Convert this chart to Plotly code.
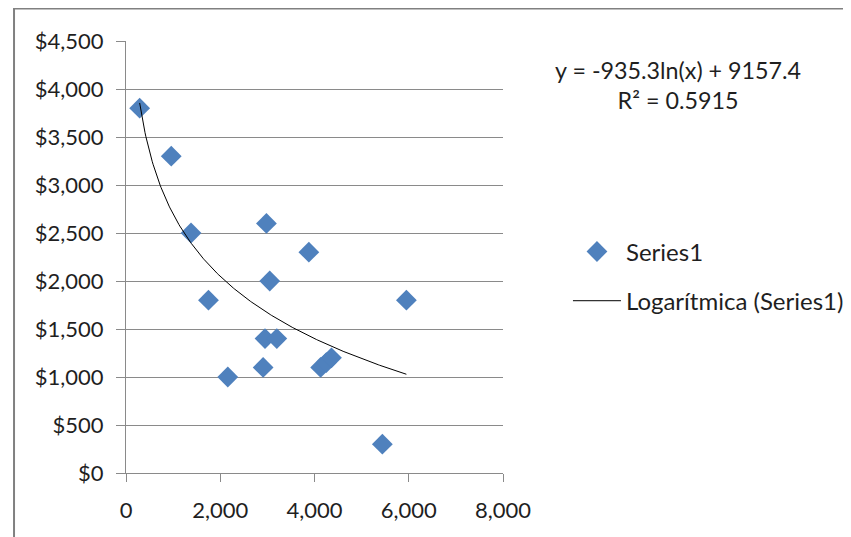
import numpy as np
import plotly.graph_objects as go

# Data
x_values = [290, 960, 1380, 1750, 2160, 2910, 2980, 2950, 3050, 3200, 3880, 4130, 4250, 4360, 5440, 5950]
y_values = [3800, 3300, 2500, 1800, 1000, 1100, 2600, 1400, 2000, 1400, 2300, 1100, 1150, 1200, 300, 1800]

# Logarithmic trendline coefficients (as printed on the chart)
trend_slope = -935.3
trend_intercept = 9157.4
r_squared = 0.5915

x_ticks = [0, 2000, 4000, 6000, 8000]
x_tick_labels = ["0", "2,000", "4,000", "6,000", "8,000"]
y_ticks = [0, 500, 1000, 1500, 2000, 2500, 3000, 3500, 4000, 4500]
y_tick_labels = ["$0", "$500", "$1,000", "$1,500", "$2,000", "$2,500", "$3,000", "$3,500", "$4,000", "$4,500"]

FONT = "Lato"
TXT = "#1f1f1f"
GRID = "#8a8a8a"

trend_x = np.linspace(min(x_values), max(x_values), 300)
trend_y = trend_slope * np.log(trend_x) + trend_intercept

fig = go.Figure()
fig.add_trace(go.Scatter(
    x=x_values, y=y_values, mode="markers", name="Series1",
    marker=dict(symbol="diamond", size=16, color="#4F81BD"),
    legendgroup="a",
))
fig.add_trace(go.Scatter(
    x=trend_x, y=trend_y, mode="lines", name="Logarítmica (Series1)",
    line=dict(color="black", width=1),
    legendgroup="b",
))

fig.update_layout(
    width=851, height=537,
    margin=dict(l=118, r=356, t=33, b=72, autoexpand=False),
    paper_bgcolor="white", plot_bgcolor="white",
    font=dict(family=FONT, size=22, color=TXT),
    showlegend=True,
    legend=dict(xref="container", yref="container", x=0.658, y=0.5877,
                xanchor="left", yanchor="top",
                tracegroupgap=15, font=dict(size=24, color=TXT),
                bgcolor="rgba(0,0,0,0)", itemwidth=48),
    xaxis=dict(range=[0, 8000], tickvals=x_ticks, ticktext=x_tick_labels,
               showgrid=False, zeroline=False, showline=True, linecolor=GRID, linewidth=1,
               ticks="outside", ticklen=8, tickcolor=GRID, ticklabelstandoff=10,
               tickfont=dict(family=FONT, size=22, color=TXT)),
    yaxis=dict(range=[0, 4500], tickvals=y_ticks, ticktext=y_tick_labels,
               showgrid=True, gridcolor=GRID, gridwidth=1, zeroline=False,
               showline=True, linecolor=GRID, linewidth=1,
               ticks="outside", ticklen=9, tickcolor=GRID, ticklabelstandoff=8,
               tickfont=dict(family=FONT, size=22, color=TXT)),
)

fig.add_annotation(
    xref="paper", yref="paper", x=1.463, y=0.898, xanchor="center", yanchor="middle",
    text=f"y = {trend_slope}ln(x) + {trend_intercept}<br>R² = {r_squared}",
    showarrow=False, align="center", font=dict(family=FONT, size=23.3, color=TXT),
)

fig.add_shape(type="rect", xref="paper", yref="paper",
              x0=-0.297, x1=1.95, y0=-0.2, y1=1.075,
              line=dict(color="#808080", width=2), layer="below")

fig.write_html("out.html")
